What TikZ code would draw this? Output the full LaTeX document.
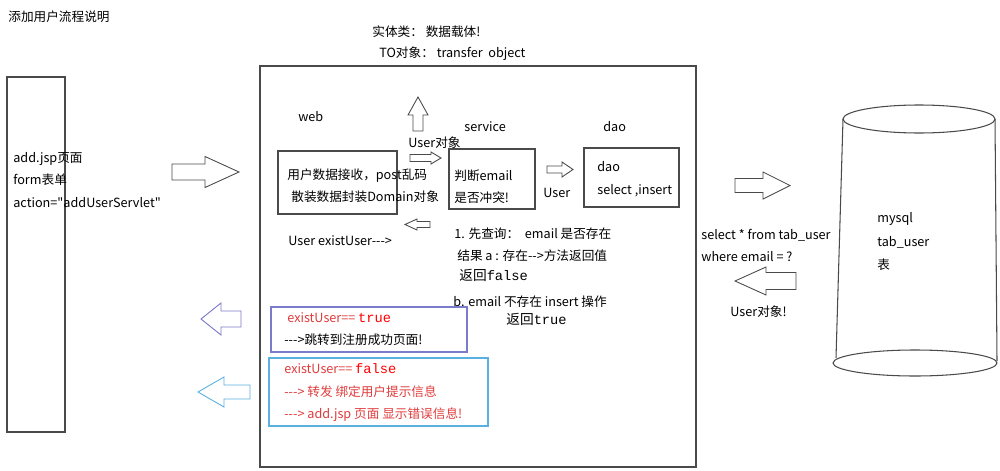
\documentclass[tikz,border=0pt]{standalone}
\usepackage{fontspec}
\newfontfamily\cjk{Noto Sans CJK SC}
\newfontfamily\cmono{Liberation Mono}
\usetikzlibrary{positioning}
\definecolor{xline}{HTML}{4A4A4A}
\definecolor{xpurple}{HTML}{7B7BCB}
\definecolor{xsky}{HTML}{5AB0E0}
\definecolor{xred}{HTML}{E03C3C}
\tikzset{
  txt/.style={font=\cjk\fontsize{7.2}{9}\selectfont, anchor=west, inner sep=0pt, text height=6.3pt, text depth=0.9pt},
  panel/.style={draw=#1, line width=0.6pt},
  pics/blockarrow/.style n args={4}{code={
    \draw[pic actions] (0,-#3) -- (#1-#2,-#3) -- (#1-#2,-#4) -- (#1,0) -- (#1-#2,#4) -- (#1-#2,#3) -- (0,#3) -- cycle;
  }},
}

\begin{document}
\begin{tikzpicture}[x=0.02cm, y=-0.02cm, line join=miter]
  \fill[white] (0,0) rectangle (1000,470);
  \useasboundingbox (0,0) rectangle (1000,470);

  \node[txt] (title) at (8,17) {添加用户流程说明};

  % jsp page
  \draw[panel=xline] (7,77) rectangle (65,432);
  \node[txt] (jsp) at (13,158) {add.jsp页面};
  \node[txt] (form) at (13,180) {form表单};
  \node[txt] (action) at (13,203) {action="addUserServlet"};
  \pic[draw=xline, line width=0.5pt] at (172,172) {blockarrow={67}{34}{8}{15.5}};

  % server side
  \node[txt] (entity) at (372,32) {实体类： 数据载体!};
  \node[txt] (transfer) at (379,53) {TO对象： transfer\ \ object};
  \draw[panel=xline, line width=0.8pt] (260,66) rectangle (696,467);

  \node[txt] (web) at (298,117) {web};
  \node[txt] (service) at (464,127) {service};
  \node[txt] (dao) at (603,127) {dao};

  \draw[panel=xline] (278,151) rectangle (397,214);
  \node[txt] (recv) at (287,175) {用户数据接收，post乱码};
  \node[txt] (pack) at (291,197) {散装数据封装Domain对象};

  \pic[draw=xline, line width=0.5pt, rotate=90] at (418,131) {blockarrow={34}{18}{5}{10}};
  \node[txt] (userobj) at (408,143) {User对象};
  \pic[draw=xline, line width=0.5pt] at (410,158) {blockarrow={31}{10}{3.5}{6}};
  \pic[draw=xline, line width=0.5pt, rotate=180] at (430,224.5) {blockarrow={25}{12}{3}{5.5}};
  \node[txt] (exist) at (288,241) {User existUser--->};

  \draw[panel=xline] (449,149) rectangle (535,209);
  \node[txt] (judge) at (454,176) {判断email};
  \node[txt] (clash) at (454,198) {是否冲突!};

  \pic[draw=xline, line width=0.5pt] at (547,169.5) {blockarrow={26}{11}{3.5}{7.5}};
  \node[txt] (user) at (543,193) {User};

  \draw[panel=xline] (584,148) rectangle (679,207);
  \node[txt] (daoin) at (597,167) {dao};
  \node[txt] (sql) at (597,190) {select ,insert};

  \node[txt] (query) at (454,234) {1. 先查询：\ \ email 是否存在};
  \node[txt] (resa) at (457,256) {结果 a : 存在-->方法返回值};
  \node[txt, font=\cjk\fontsize{7.8}{9}\selectfont] (retf) at (459,276) {返回{\cmono false}};
  \node[txt] (resb) at (453,302) {b. email 不存在 insert 操作};
  \node[txt, font=\cjk\fontsize{7.8}{9}\selectfont] (rett) at (506,320) {返回{\cmono true}};

  % results
  \draw[panel=xpurple] (271,307) rectangle (467,352);
  \node[txt, text=xred] (istrue) at (287,318) {existUser== {\cmono\color{red}\fontsize{7.8}{9}\selectfont true}};
  \node[txt] (okpage) at (284,340) {--->跳转到注册成功页面!};
  \pic[draw=xpurple, line width=0.5pt, rotate=180] at (241,319) {blockarrow={40}{20}{8}{16}};

  \draw[panel=xsky] (269,358) rectangle (488,426);
  \node[txt, text=xred] (isfalse) at (284,369) {existUser== {\cmono\color{red}\fontsize{7.8}{9}\selectfont false}};
  \node[txt, text=xred] (fwd) at (284,392) {---> 转发 绑定用户提示信息};
  \node[txt, text=xred] (errpage) at (284,414) {---> add.jsp 页面 显示错误信息!};
  \pic[draw=xsky, line width=0.5pt, rotate=180] at (250,392) {blockarrow={52}{26}{7}{15}};

  % database
  \pic[draw=xline, line width=0.5pt] at (735,185.5) {blockarrow={55}{27}{7}{13.5}};
  \node[txt] (select) at (701,235) {select * from tab\_user};
  \node[txt] (where) at (701,257) {where email = ?};
  \pic[draw=xline, line width=0.5pt, rotate=180] at (796,281) {blockarrow={61}{31}{8.5}{14}};
  \node[txt] (userback) at (730,312) {User对象!};

  \draw[xline, line width=0.6pt] (919,119) ellipse [x radius=76, y radius=14];
  \draw[xline, line width=0.6pt] (915,363) ellipse [x radius=82, y radius=13];
  \draw[xline, line width=0.6pt] (843,119) -- (836,358);
  \draw[xline, line width=0.6pt] (995,119) -- (997,361);
  \node[txt] (mysql) at (877,218) {mysql};
  \node[txt] (tab) at (877,242) {tab\_user};
  \node[txt] (biao) at (877,265) {表};
\end{tikzpicture}
\end{document}
